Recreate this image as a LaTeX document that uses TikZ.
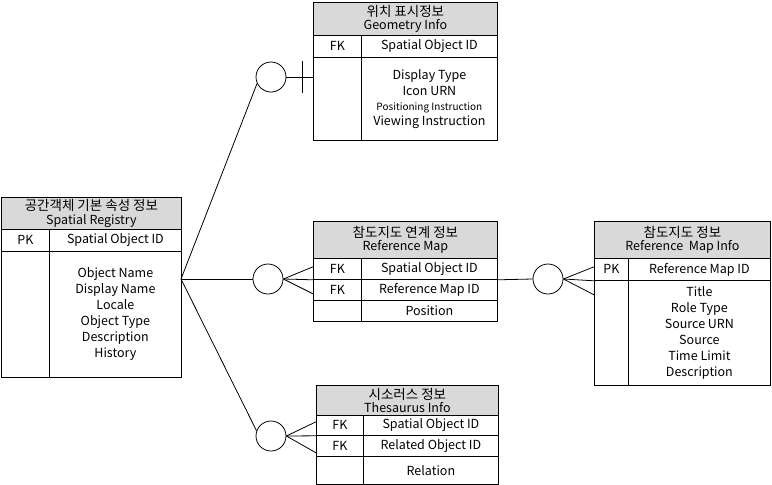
\documentclass[tikz,border=0pt]{standalone}
\usepackage{fontspec}
\setmainfont{Noto Sans CJK KR}
\usetikzlibrary{positioning}

\begin{document}
\begin{tikzpicture}[x = 1pt, y = -1pt, line width = 0.8pt,
  hdr/.style = {draw, fill = black!15, inner sep = 0pt, anchor = north west, align = center,
    font = \fontsize{12.5}{13.5}\selectfont},
  cell/.style = {draw, inner sep = 0pt, anchor = north west, align = center,
    font = \fontsize{12.5}{16}\selectfont},
  rel/.style = {draw, circle, minimum size = 30pt, inner sep = 0pt}]
  \useasboundingbox (0, 0) rectangle (772, 485);

  % Spatial Registry
  \node[hdr, minimum width = 180, minimum height = 32] (sr) at (1, 197) {{\fontsize{13.5}{13.5}\selectfont 공간객체 기본 속성 정보}\\Spatial Registry};
  \node[cell, minimum width = 48, minimum height = 22] (sr-k1) at (1, 229) {PK};
  \node[cell, minimum width = 132, minimum height = 22] (sr-f1) at (49, 229) {Spatial Object ID};
  \node[cell, minimum width = 48, minimum height = 126] (sr-k2) at (1, 251) {};
  \node[cell, minimum width = 132, minimum height = 126] (sr-f2) at (49, 251) {Object Name\\Display Name\\Locale\\Object Type\\Description\\History};

  % Geometry Info
  \node[hdr, minimum width = 184, minimum height = 33] (gi) at (313, 2) {{\fontsize{13.5}{13.5}\selectfont 위치 표시정보}\\Geometry Info};
  \node[cell, minimum width = 48, minimum height = 22] (gi-k1) at (313, 35) {FK};
  \node[cell, minimum width = 136, minimum height = 22] (gi-f1) at (361, 35) {Spatial Object ID};
  \node[cell, minimum width = 48, minimum height = 83] (gi-k2) at (313, 57) {};
  \node[cell, minimum width = 136, minimum height = 83] (gi-f2) at (361, 57) {Display Type\\Icon URN\\[-1pt]{\fontsize{10}{12}\selectfont Positioning Instruction}\\[-1pt]Viewing Instruction};

  % Reference Map
  \node[hdr, minimum width = 184, minimum height = 37] (rm) at (313, 221) {{\fontsize{13.5}{13.5}\selectfont 참도지도 연계 정보}\\Reference Map};
  \node[cell, minimum width = 48, minimum height = 21] (rm-k1) at (313, 258) {FK};
  \node[cell, minimum width = 136, minimum height = 21] (rm-f1) at (361, 258) {Spatial Object ID};
  \node[cell, minimum width = 48, minimum height = 21] (rm-k2) at (313, 279) {FK};
  \node[cell, minimum width = 136, minimum height = 21] (rm-f2) at (361, 279) {Reference Map ID};
  \node[cell, minimum width = 48, minimum height = 21] (rm-k3) at (313, 300) {};
  \node[cell, minimum width = 136, minimum height = 21] (rm-f3) at (361, 300) {Position};

  % Reference Map Info
  \node[hdr, minimum width = 176, minimum height = 37] (rmi) at (594, 221) {{\fontsize{13.5}{13.5}\selectfont 참도지도 정보}\\Reference\ \ Map Info};
  \node[cell, minimum width = 34, minimum height = 22] (rmi-k1) at (594, 258) {PK};
  \node[cell, minimum width = 142, minimum height = 22] (rmi-f1) at (628, 258) {Reference Map ID};
  \node[cell, minimum width = 34, minimum height = 105] (rmi-k2) at (594, 280) {};
  \node[cell, minimum width = 142, minimum height = 105] (rmi-f2) at (628, 280) {Title\\Role Type\\Source URN\\Source\\Time Limit\\Description};

  % Thesaurus Info
  \node[hdr, minimum width = 182, minimum height = 30] (ti) at (316, 385) {{\fontsize{13.5}{13.5}\selectfont 시소러스 정보}\\Thesaurus Info};
  \node[cell, minimum width = 47, minimum height = 20] (ti-k1) at (316, 415) {FK};
  \node[cell, minimum width = 135, minimum height = 20] (ti-f1) at (363, 415) {Spatial Object ID};
  \node[cell, minimum width = 47, minimum height = 21] (ti-k2) at (316, 435) {FK};
  \node[cell, minimum width = 135, minimum height = 21] (ti-f2) at (363, 435) {Related Object ID};
  \node[cell, minimum width = 47, minimum height = 28] (ti-k3) at (316, 456) {};
  \node[cell, minimum width = 135, minimum height = 28] (ti-f3) at (363, 456) {Relation};

  % relationship circles
  \node[rel] (c1) at (271, 77) {};
  \node[rel] (c2) at (268, 279) {};
  \node[rel] (c3) at (271, 436) {};
  \node[rel] (c4) at (548, 279) {};
  \coordinate (sr-out) at (181, 279);

  % connectors
  \draw (sr-out) -- (c1.205);
  \draw (sr-out) -- (c2.west);
  \draw (sr-out) -- (c3.160);

  \draw (c1.east) -- (c1 -| gi-k2.west);
  \draw ([xshift = 16pt]c1.east) ++(0, -16) -- ++(0, 32);

  \draw (c2.east) -- ([yshift = 13pt]rm-k1.south west);
  \draw (c2.east) -- (rm-k1.south west);
  \draw (c2.east) -- ([yshift = -14pt]rm-k1.south west);

  \draw (rm-f1.south east) -- (c4.west);
  \draw (c4.east) -- ([yshift = 14pt]rmi-k1.south west);
  \draw (c4.east) -- (rmi-k1.south west);
  \draw (c4.east) -- ([yshift = -14pt]rmi-k1.south west);

  \draw (c3.east) -- ([yshift = 14pt]ti-k1.south west);
  \draw (c3.east) -- (ti-k1.south west);
  \draw (c3.east) -- ([yshift = -17pt]ti-k1.south west);
\end{tikzpicture}
\end{document}
